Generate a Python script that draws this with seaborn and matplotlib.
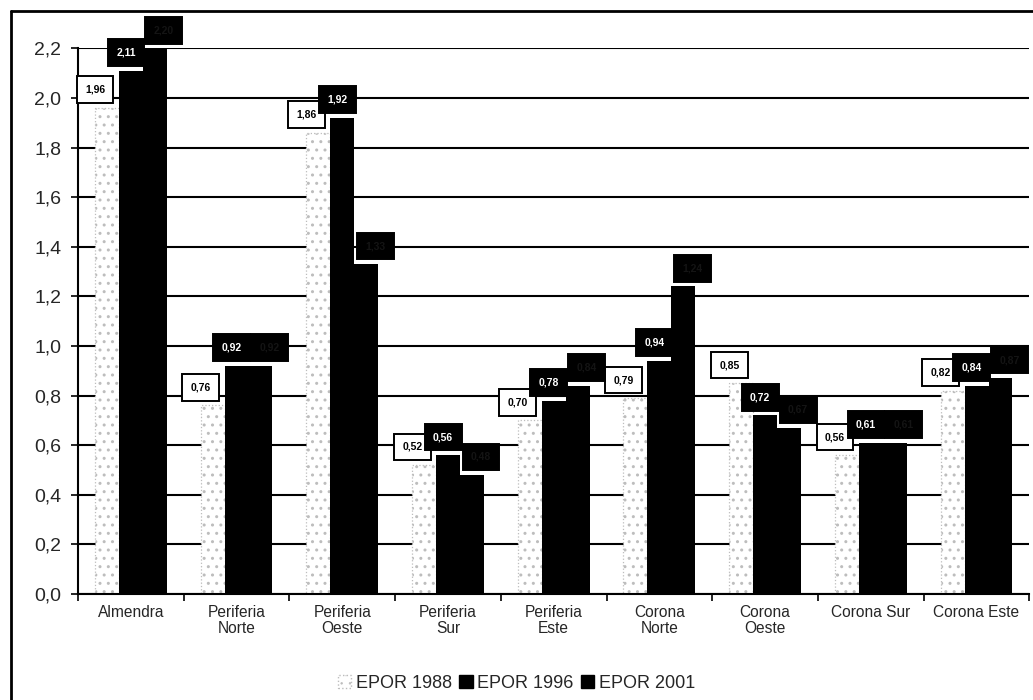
import numpy as np
import pandas as pd
import matplotlib
matplotlib.use("Agg")
import matplotlib.pyplot as plt
import seaborn as sns
from matplotlib.patches import Patch

# Zonas y valores por campaña
zonas = ["Almendra", "Periferia\nNorte", "Periferia\nOeste", "Periferia\nSur",
         "Periferia\nEste", "Corona\nNorte", "Corona\nOeste", "Corona Sur", "Corona Este"]
series = ["EPOR 1988", "EPOR 1996", "EPOR 2001"]
epor_1988 = [1.96, 0.76, 1.86, 0.52, 0.70, 0.79, 0.85, 0.56, 0.82]
epor_1996 = [2.11, 0.92, 1.92, 0.56, 0.78, 0.94, 0.72, 0.61, 0.84]
epor_2001 = [2.20, 0.92, 1.33, 0.48, 0.84, 1.24, 0.67, 0.61, 0.87]
y_ticks = [0.0, 0.2, 0.4, 0.6, 0.8, 1.0, 1.2, 1.4, 1.6, 1.8, 2.0, 2.2]

df = pd.DataFrame({
    "zona": zonas * 3,
    "serie": [s for s in series for _ in zonas],
    "valor": epor_1988 + epor_1996 + epor_2001,
})

sns.set_style("white")
plt.rcParams["font.family"] = ["Liberation Sans", "DejaVu Sans"]

fig = plt.figure(figsize=(10.33, 7.0), dpi=100)
ax = fig.add_axes([0.0755, 0.1514, 0.921, 0.7796])

palette = {"EPOR 1988": "white", "EPOR 1996": "black", "EPOR 2001": "black"}
sns.barplot(data=df, x="zona", y="valor", hue="serie", hue_order=series,
            order=zonas, palette=palette, width=0.68, saturation=1,
            edgecolor="black", linewidth=0, ax=ax, legend=False)

# Estilo punteado de la serie 1988
plt.rcParams["hatch.linewidth"] = 0.5
for p in ax.containers[0]:
    p.set_facecolor("white")
    p.set_hatch("..")
    p.set_edgecolor("#bdbdbd")
    p.set_linewidth(0.9)
    p.set_linestyle(":")

ax.set_ylim(0, 2.2)
ax.set_xlim(-0.5, len(zonas) - 0.5)
ax.set_yticks(y_ticks)
ax.set_yticklabels([f"{v:.1f}".replace(".", ",") for v in y_ticks], fontsize=14)
ax.set_xlabel("")
ax.set_ylabel("")

# Rejilla horizontal negra
ax.set_axisbelow(True)
ax.yaxis.grid(True, color="black", linewidth=1.5)
ax.xaxis.grid(False)

for s in ["top", "right"]:
    ax.spines[s].set_visible(False)
for s in ["left", "bottom"]:
    ax.spines[s].set_color("black")
    ax.spines[s].set_linewidth(1.5)

ax.tick_params(axis="y", direction="out", length=5, width=1.2, color="black", left=True, pad=7)
ax.set_xticks(range(len(zonas)))
ax.set_xticklabels(zonas, fontsize=11.2, linespacing=1.1)
ax.tick_params(axis="x", which="major", length=0, pad=8)
ax.set_xticks(np.arange(-0.5, len(zonas) - 0.4, 1.0), minor=True)
ax.tick_params(axis="x", which="minor", direction="out", length=5, width=1.2,
               color="black", bottom=True)

# Etiquetas de valor sobre cada barra
label_style = [
    (epor_1988, -8.5, "black", "white", "black"),
    (epor_1996, -3.5, "white", "black", "black"),
    (epor_2001, 6.5, "#141414", "black", "black"),
]
for cont, (vals, dx, tcolor, fcolor, ecolor) in zip(ax.containers, label_style):
    for bar, v in zip(cont, vals):
        xc = bar.get_x() + bar.get_width() / 2
        ax.annotate(f"{v:.2f}".replace(".", ","), xy=(xc, v),
                    xytext=(dx, 13), textcoords="offset points",
                    ha="center", va="center", fontsize=7.5, fontweight="bold",
                    color=tcolor, annotation_clip=False,
                    bbox=dict(boxstyle="square,pad=0.8", facecolor=fcolor,
                              edgecolor=ecolor, linewidth=1.4),
                    zorder=5)

# Leyenda inferior
handles = [
    Patch(facecolor="white", edgecolor="#bdbdbd", hatch="..", linestyle=":"),
    Patch(facecolor="black", edgecolor="black"),
    Patch(facecolor="black", edgecolor="black"),
]
fig.legend(handles, series, loc="center", bbox_to_anchor=(0.5, 0.024), ncol=3,
           frameon=False, fontsize=13, handlelength=0.75, handleheight=0.75,
           handletextpad=0.25, columnspacing=0.4)

# Marco exterior (izquierdo y superior)
fig.add_artist(plt.Line2D([0.0105, 0.0105], [0.0, 0.985], color="black",
                          linewidth=2, transform=fig.transFigure))
fig.add_artist(plt.Line2D([0.0105, 1.0], [0.985, 0.985], color="black",
                          linewidth=2, transform=fig.transFigure))

fig.savefig("out.png", dpi=100)
